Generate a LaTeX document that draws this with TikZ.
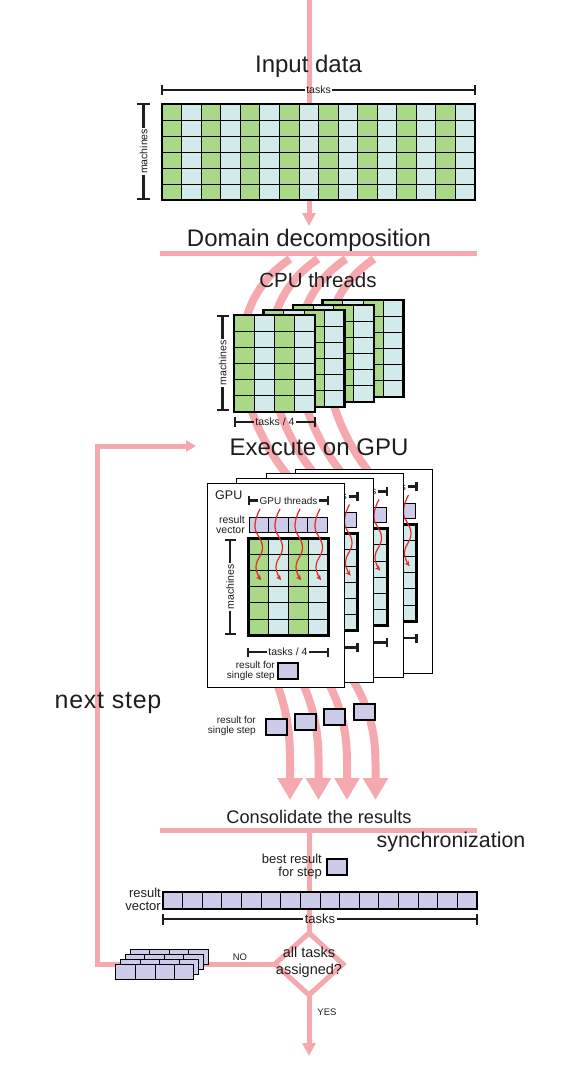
\documentclass[tikz,border=0pt]{standalone}
\usepackage{fontspec}
\setmainfont{Liberation Sans}
\usetikzlibrary{arrows.meta,shapes.geometric}
\definecolor{pinkc}{RGB}{245,168,173}
\definecolor{greenc}{RGB}{169,216,134}
\definecolor{bluec}{RGB}{211,234,234}
\definecolor{lavc}{RGB}{204,204,234}
\definecolor{redc}{RGB}{228,40,36}
\definecolor{txt}{RGB}{30,30,30}
\newcommand\fs[1]{\fontsize{#1}{#1}\selectfont}
% grid of task cells: x,y,cols,rows,cw,rh,border
\newcommand\taskgrid[7]{%
  \foreach \ii in {1,...,#3}{%
    \pgfmathtruncatemacro\oddc{mod(\ii,2)}%
    \ifnum\oddc=1\relax\def\cellc{greenc}\else\def\cellc{bluec}\fi
    \fill[\cellc] ({#1+(\ii-1)*#5},{#2}) rectangle ++(#5,{#4*#6});%
  }%
  \pgfmathtruncatemacro\ncm{#3-1}%
  \pgfmathtruncatemacro\nrm{#4-1}%
  \foreach \ii in {1,...,\ncm}{\draw[thinl] ({#1+\ii*#5},{#2}) -- ++(0,{#4*#6});}%
  \foreach \jj in {1,...,\nrm}{\draw[thinl] ({#1},{#2+\jj*#6}) -- ++({#3*#5},0);}%
  \draw[black, line width=#7] ({#1},{#2}) rectangle ++({#3*#5},{#4*#6});%
}
% lavender vector: x,y,n,cw,h,border
\newcommand\lavrow[6]{%
  \fill[lavc] ({#1},{#2}) rectangle ++({#3*#4},{#5});%
  \pgfmathtruncatemacro\nlm{#3-1}%
  \foreach \ii in {1,...,\nlm}{\draw[black,line width=0.8pt] ({#1+\ii*#4},{#2}) -- ++(0,{#5});}%
  \draw[black, line width=#6] ({#1},{#2}) rectangle ++({#3*#4},{#5});%
}
% horizontal bracket: name,x1,x2,y,label,fontsize,halftick
\newcommand\hbrk[7]{%
  \node[lbl, font=\fs{#6}] (#1) at ({(#2+#3)/2},{#4}) {#5};%
  \draw[brk] ({#2},{#4}) -- (#1.west) (#1.east) -- ({#3},{#4});%
  \draw[brk] ({#2},{#4-#7}) -- ({#2},{#4+#7}) ({#3},{#4-#7}) -- ({#3},{#4+#7});%
}
% vertical bracket: name,x,y1,y2,label,fontsize,halftick
\newcommand\vbrk[7]{%
  \draw[brk] ({#2},{#3}) -- ({#2},{#4});%
  \draw[brk] ({#2-#7},{#3}) -- ({#2+#7},{#3}) ({#2-#7},{#4}) -- ({#2+#7},{#4});%
  \node[lbl, fill=white, rotate=90, font=\fs{#6}] (#1) at ({#2},{(#3+#4)/2}) {#5};%
}
\newcommand\cpucard[2]{%
  \begin{scope}[shift={(#1,#2)}]
    \taskgrid{0}{0}{4}{6}{20.25}{16.17}{2.5pt}
  \end{scope}%
}
% GPU card: x, y, id, front (1) or back (0)
\newcommand\gpucard[4]{%
  \begin{scope}[shift={(#1,#2)}]
    \draw[thinl, fill=white] (0,0) rectangle (137,204);
    \hbrk{gth#3}{42}{121}{17.7}{GPU threads}{10}{4.5}
    \lavrow{42}{34}{4}{19.5}{15}{1pt}
    \taskgrid{41}{55}{4}{6}{20}{16.2}{3pt}
    \hbrk{gt#3}{41}{121}{169}{tasks / 4}{10.5}{4.5}
    \ifnum#4=1\relax
      \node[lbl, anchor=west, font=\fs{12.5}] (gpu#3) at (6.5,12) {GPU};
      \node[lbl, inner sep=0pt, anchor=east, align=right, font=\fs{10.5}] (rvl#3) at (38,41.5) {result\\vector};
      \vbrk{gm#3}{23}{57}{151}{machines}{10.5}{5.5}
      \node[lbl, inner sep=0pt, anchor=east, align=right, font=\fs{10}] (rsl#3) at (68,187.5) {result for\\single step};
      \draw[black, line width=2pt, fill=lavc] (71,180) rectangle (91,196);
    \fi
    \foreach \cc in {51,71,91,111}{%
      \draw[redwave] plot[smooth, tension=0.8] coordinates {({\cc+2},26) ({\cc-3},44) ({\cc+4.5},64) ({\cc-2},83) ({\cc+3},97)};}
  \end{scope}%
}
\begin{document}
\begin{tikzpicture}[x=1pt,y=-1pt,
  pinkline/.style={draw=pinkc, line width=5pt},
  band/.style={draw=pinkc, line width=8pt},
  brk/.style={draw=txt, line width=2.6pt},
  lbl/.style={text=txt, inner sep=1.5pt},
  thinl/.style={draw=black, line width=0.8pt},
  redwave/.style={draw=redc, line width=1.2pt, -{Stealth[length=5pt,width=5pt]}},
  bigarrow/.style={band, -{Triangle[width=24pt,length=22pt]}},
  title/.style={text=txt, inner sep=0pt},
  resbox/.style={draw=black, line width=2.2pt, fill=lavc, minimum width=20pt, minimum height=15pt, inner sep=0pt},
]
\useasboundingbox (0,0) rectangle (561,1073);

% ---- input
\coordinate (topstart) at (309,0);
\coordinate (topend) at (309,226);
\draw[pinkline, -{Triangle[width=13pt,length=13pt]}] (topstart) -- (topend);
\node[title, font=\fs{24}] (input) at (308.5,66) {Input data};
\hbrk{ttasks}{162}{475}{90}{tasks}{10.5}{5}
\vbrk{tmach}{143.5}{104}{199}{machines}{10.5}{6.5}
\taskgrid{162}{104}{16}{6}{19.5625}{16}{2.7pt}

% ---- domain decomposition
\node[title, font=\fs{24}] (domain) at (309,240) {Domain decomposition};
\coordinate (dlL) at (160,253);
\coordinate (dlR) at (477,253);
\draw[pinkline] (dlL) -- (dlR);

\foreach \k in {0,1,2,3}{%
  \draw[band] ({290+28*\k},259) .. controls ({210+28*\k},312) and ({240+28*\k},430) .. ({301+28*\k},490);
}
\node[title, font=\fs{20.5}] (cpu) at (318,280) {CPU threads};

% ---- CPU cards
\cpucard{322.5}{300}
\cpucard{293}{305}
\cpucard{263.5}{310}
\cpucard{234}{315}
\vbrk{cmach}{222.7}{316}{410}{machines}{10.5}{6}
\hbrk{ctask}{235}{315}{422}{tasks / 4}{10.5}{5}

\node[title, font=\fs{24}] (exec) at (319,447) {Execute on GPU};

% ---- bands to consolidation
\foreach \k in {0,1,2,3}{%
  \draw[bigarrow] ({274+25.5*\k},676) .. controls ({292+28.5*\k},720) and ({290+28.5*\k},750) .. ({290+28.5*\k},800);
}

% ---- GPU cards
\gpucard{295.5}{469}{d}{0}
\gpucard{266}{473.5}{c}{0}
\gpucard{236.5}{478.5}{b}{0}
\gpucard{207}{483}{a}{1}

% ---- single step results
\node[resbox, minimum width=21pt, minimum height=16pt, anchor=north west] (r1) at (265,718) {};
\node[resbox, minimum width=21pt, minimum height=16pt, anchor=north west] (r2) at (294,713) {};
\node[resbox, minimum width=21pt, minimum height=16pt, anchor=north west] (r3) at (323,708) {};
\node[resbox, minimum width=21pt, minimum height=16pt, anchor=north west] (r4) at (353,703) {};
\node[lbl, inner sep=0pt, anchor=east, align=right, font=\fs{10}] (rsl) at (256,725.5) {result for\\single step};

% ---- consolidation
\node[title, font=\fs{18.2}] (cons) at (319,817) {Consolidate the results};
\coordinate (clL) at (160,830);
\coordinate (clR) at (477,830);
\coordinate (cmid) at (309,830);
\draw[pinkline] (clL) -- (clR);
\coordinate (dt) at (309,933);
\coordinate (dr) at (343,964);
\coordinate (db) at (309,995);
\coordinate (dl) at (275,964);
\draw[pinkline] (cmid) -- (dt);
\node[title, font=\fs{21.4}] (sync) at (451,842) {synchronization};

\node[lbl, inner sep=0pt, anchor=east, align=right, font=\fs{13}] (best) at (322,867) {best result\\for step};
\node[resbox, minimum width=20pt, minimum height=16pt, anchor=north west] (bestbox) at (326,858) {};

\lavrow{163}{892}{16}{19.625}{17}{2.4pt}
\node[lbl, inner sep=0pt, anchor=east, align=right, font=\fs{13}] (rvec) at (161,899) {result\\vector};
\hbrk{btasks}{163}{477}{919}{tasks}{13}{5.5}

% ---- decision
\draw[pinkline, line join=miter] (dt) -- (dr) -- (db) -- (dl) -- cycle;
\node[title, align=center, font=\fontsize{14.5}{16.6}\selectfont] (q) at (309,962) {all tasks\\assigned?};
\coordinate (yesend) at (309,1056);
\draw[pinkline, -{Triangle[width=13pt,length=13pt]}] (db) -- (yesend);
\node[lbl, font=\fs{9.5}] (yes) at (327,1012) {YES};
\coordinate (lc1) at (97,964);
\coordinate (lc2) at (97,446);
\coordinate (loopend) at (196,446);
\draw[pinkline, line join=miter, -{Triangle[width=11pt,length=10pt]}] (dl) -- (lc1) -- (lc2) -- (loopend);
\node[lbl, font=\fs{9.5}] (no) at (240,957) {NO};
\foreach \k in {0,1,2,3}{%
  \lavrow{130-4.7*\k}{949+5*\k}{4}{19.5}{15}{0.9pt}
}
\node[title, font=\fs{25}\addfontfeature{LetterSpace=3}] (next) at (108,703) {next step};
\end{tikzpicture}
\end{document}
